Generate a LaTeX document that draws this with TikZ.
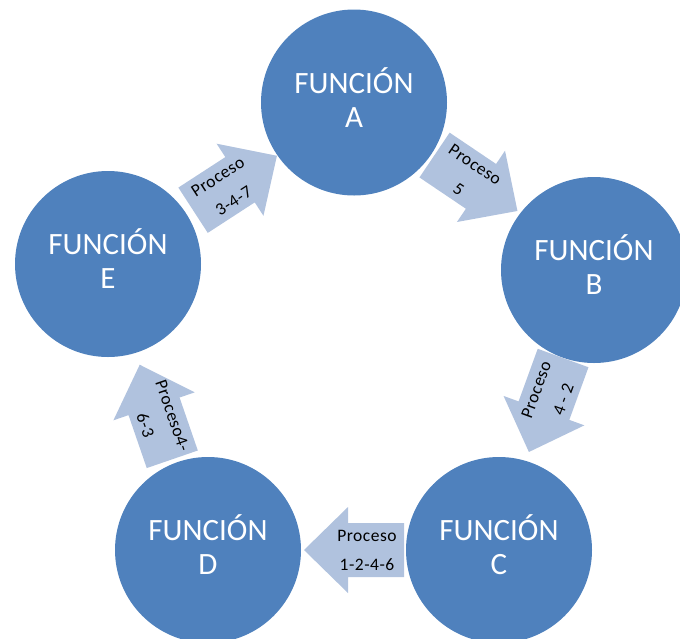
\documentclass[tikz,border=0pt]{standalone}
\usepackage{fontspec}
\setmainfont{Carlito}
\newfontfamily\procfont[LetterSpace=3]{Carlito}
\definecolor{circblue}{RGB}{79,129,189}
\definecolor{arrblue}{RGB}{176,194,222}
\tikzset{
  func/.style={circle, fill=circblue, minimum size=186pt, inner sep=0pt,
    text=white, font=\fontsize{31}{34}\selectfont, align=center},
  arrowfill/.style={fill=arrblue},
  proclabel/.style={font=\procfont\fontsize{17.5}{29}\selectfont, align=center,
    inner sep=0pt, text=black}
}
\begin{document}
\begin{tikzpicture}[x=1pt,y=-1pt]
\useasboundingbox (0,0) rectangle (680,638);
% circles
\node[func] (A) at (354,102.5) {FUNCIÓN\\A\strut};
\node[func] (B) at (594,270) {FUNCIÓN\\B\strut};
\node[func] (C) at (499,550) {FUNCIÓN\\C\strut};
\node[func] (D) at (208,550) {FUNCIÓN\\D\strut};
\node[func] (E) at (108,264) {FUNCIÓN\\E\strut};
% arrows
\begin{scope}[shift={(235,183)}, rotate=33]
  \fill[arrowfill] (-50,-27) -- (6,-27) -- (6,-43) -- (50,0) -- (6,43) -- (6,27) -- (-50,27) -- cycle;
  \node[proclabel, rotate=33] (p1) at (-11,0) {Proceso\\3-4-7};
\end{scope}
\begin{scope}[shift={(476,183)}, rotate=-34]
  \fill[arrowfill] (-50,-27) -- (6,-27) -- (6,-43) -- (50,0) -- (6,43) -- (6,27) -- (-50,27) -- cycle;
  \node[proclabel, rotate=-34] (p2) at (-11,0) {Proceso\\5};
\end{scope}
\begin{scope}[shift={(546,405)}, rotate=-110]
  \fill[arrowfill] (-50,-27) -- (6,-27) -- (6,-43) -- (50,0) -- (6,43) -- (6,27) -- (-50,27) -- cycle;
  \node[proclabel, rotate=70] (p3) at (-11,0) {Proceso\\4 - 2};
\end{scope}
\begin{scope}[shift={(354,550)}, rotate=180]
  \fill[arrowfill] (-50,-27) -- (6,-27) -- (6,-43) -- (50,0) -- (6,43) -- (6,27) -- (-50,27) -- cycle;
  \node[proclabel, rotate=0] (p4) at (-13,0) {Proceso\\1-2-4-6};
\end{scope}
\begin{scope}[shift={(156,412)}, rotate=109]
  \fill[arrowfill] (-50,-27) -- (6,-27) -- (6,-43) -- (50,0) -- (6,43) -- (6,27) -- (-50,27) -- cycle;
  \node[proclabel, rotate=-71] (p5) at (-9,0) {Proceso4-\\6-3};
\end{scope}
\end{tikzpicture}
\end{document}
